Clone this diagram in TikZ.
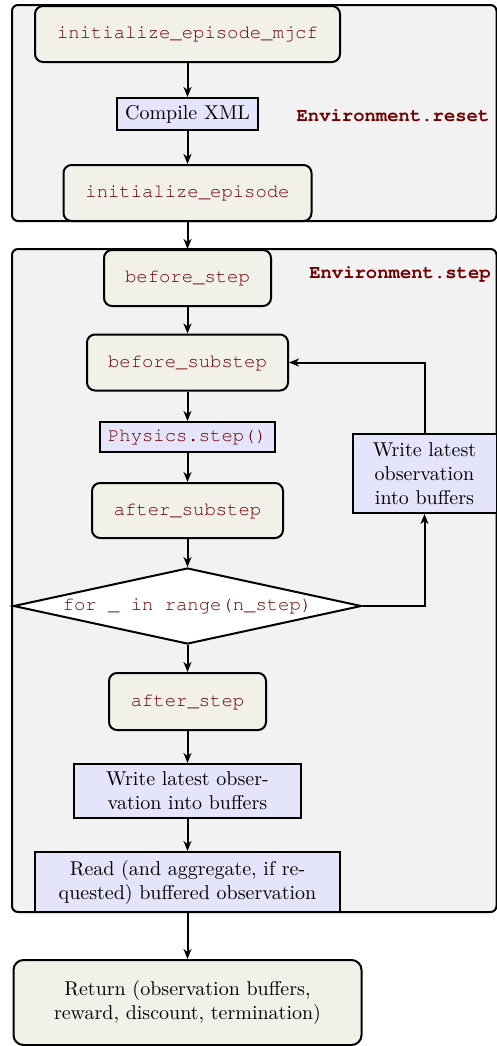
\documentclass[tikz,border=0pt]{standalone}
\usepackage[T1]{fontenc}
\usepackage{fontspec}
\usetikzlibrary{shapes.geometric,arrows.meta}
\definecolor{codered}{HTML}{700000}
\definecolor{boxbeige}{HTML}{F1F0E9}
\definecolor{boxblue}{HTML}{E4E4FA}
\definecolor{panelgray}{HTML}{F2F2F2}
\newcommand{\mycode}[1]{{\fontencoding{T1}\fontfamily{pcr}\fontsize{9.45}{11}\selectfont\color{codered}#1}}
\newcommand{\mybold}[1]{{\fontencoding{T1}\fontfamily{pcr}\fontseries{b}\fontsize{9.45}{11}\selectfont\color{codered}#1}}
\begin{document}
\begin{tikzpicture}[x=0.5pt,y=-0.5pt,
  rbox/.style={draw, line width=1pt, rounded corners=4pt, fill=boxbeige, inner sep=0pt},
  bbox/.style={draw, line width=1pt, fill=boxblue, inner sep=0pt, align=center},
  arr/.style={-{Stealth[length=5pt,width=4pt,inset=1.5pt]}, line width=1pt},
  panel/.style={draw, line width=1pt, rounded corners=3pt, fill=panelgray, inner sep=0pt},
  lbl/.style={inner sep=0pt}]
\useasboundingbox (0,0) rectangle (497,1046);
% panels
\node[panel, minimum width=242.25pt, minimum height=108pt] (resetpanel) at (254.25,113) {};
\node[panel, minimum width=242.25pt, minimum height=331.5pt] (steppanel) at (254.25,580.5) {};
% reset part
\node[rbox, minimum width=152.5pt, minimum height=28pt] (mjcf) at (187.5,34) {\mycode{initialize\_episode\_mjcf}};
\node[bbox, minimum width=70.5pt, minimum height=16pt] (xml) at (187.5,114) {Compile XML};
\node[rbox, minimum width=124pt, minimum height=28pt] (ie) at (187.5,193) {\mycode{initialize\_episode}};
\node[lbl] (resetlbl) at (393,115) {\mybold{Environment.reset}};
% step part
\node[lbl] (steplbl) at (400,273) {\mybold{Environment.step}};
\node[rbox, minimum width=83.5pt, minimum height=28pt] (bstep) at (187.5,278) {\mycode{before\_step}};
\node[rbox, minimum width=100.5pt, minimum height=28pt] (bsub) at (187.5,362.5) {\mycode{before\_substep}};
\node[bbox, minimum width=87.5pt, minimum height=15pt] (phys) at (187.5,437) {\mycode{Physics.step()}};
\node[rbox, minimum width=95.5pt, minimum height=27.5pt] (asub) at (187.5,510.5) {\mycode{after\_substep}};
\node[bbox, minimum width=72pt, minimum height=39.5pt] (wr) at (424.5,473.5) {Write latest\\observation\\into buffers};
\node[draw, line width=1pt, fill=white, diamond, aspect=4.58, inner sep=0pt, minimum width=174pt, minimum height=38pt] (dia) at (187.5,606) {\mycode{for \_ in range(n\_step)}};
\node[rbox, minimum width=78.5pt, minimum height=28.5pt] (astep) at (187.5,701.5) {\mycode{after\_step}};
\node[bbox, minimum width=113.5pt, minimum height=27pt] (wobs) at (187.5,791) {Write latest obser-\\vation into buffers};
\node[bbox, minimum width=152.5pt, minimum height=30pt] (read) at (187.5,882) {Read (and aggregate, if re-\\quested) buffered observation};
\node[rbox, rounded corners=5pt, align=center, minimum width=174pt, minimum height=42.5pt] (ret) at (187.5,1002.5) {Return (observation buffers,\\reward, discount, termination)};
% connectors
\draw[arr] (mjcf) -- (xml);
\draw[arr] (xml) -- (ie);
\draw[arr] (ie) -- (bstep);
\draw[arr] (bstep) -- (bsub);
\draw[arr] (bsub) -- (phys);
\draw[arr] (phys) -- (asub);
\draw[arr] (asub) -- (dia);
\draw[arr] (dia) -- (astep);
\draw[arr] (astep) -- (wobs);
\draw[arr] (wobs) -- (read);
\draw[arr] (read) -- (ret);
\draw[arr] (dia.east) -| (wr.south);
\draw[arr] (wr.north) |- (bsub.east);
\end{tikzpicture}
\end{document}
